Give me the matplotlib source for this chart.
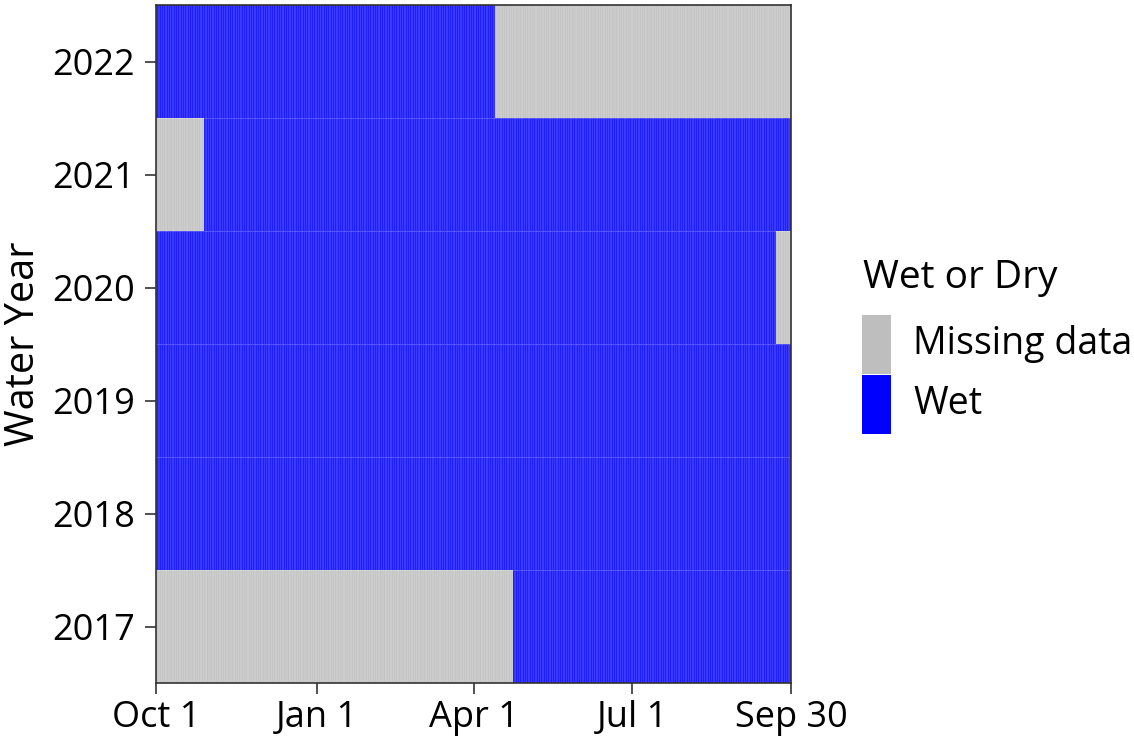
import numpy as np
import matplotlib
matplotlib.use("Agg")
import matplotlib.pyplot as plt
from matplotlib.colors import ListedColormap
from matplotlib.patches import Rectangle

plt.rcParams['font.family'] = ['Open Sans', 'DejaVu Sans']

# water years and the day-of-water-year ranges with missing data (0 = none)
years = [2017, 2018, 2019, 2020, 2021, 2022]
missing_start = [1, 0, 0, 357, 1, 196]
missing_end = [205, 0, 0, 365, 28, 365]

status_labels = ['Missing data', 'Wet']
status_colors = ['#bebebe', '#0000ff']

tick_days = [1, 93, 183, 274, 365]
tick_labels = ['Oct 1', 'Jan 1', 'Apr 1', 'Jul 1', 'Sep 30']

n_days = 365
days = np.arange(1, n_days + 1)

# 1 = wet, 0 = missing
grid = np.ones((len(years), n_days))
for i in range(len(years)):
    if missing_start[i] > 0:
        grid[i, (days >= missing_start[i]) & (days <= missing_end[i])] = 0

fig = plt.figure(figsize=(11.34, 7.43), dpi=100)
ax = fig.add_axes([156 / 1134, 1 - 683 / 743, (791.3 - 156) / 1134, 678 / 743])

x_edges = np.arange(0.5, n_days + 1.5)
y_edges = np.arange(len(years) + 1) - 0.5
ax.pcolormesh(x_edges, y_edges, grid, cmap=ListedColormap(status_colors),
              vmin=0, vmax=1, edgecolors=(1, 1, 1, 0.12), linewidth=0.25)

ax.set_xlim(1, 365)
ax.set_ylim(-0.5, len(years) - 0.5)
ax.set_xticks(tick_days)
ax.set_xticklabels(tick_labels)
ax.set_yticks(range(len(years)))
ax.set_yticklabels([str(y) for y in years])

for s in ax.spines.values():
    s.set_color('#333333')
    s.set_linewidth(1.2)
ax.tick_params(axis='both', length=8, width=1.2, color='#333333',
               labelsize=26, labelcolor='black')
ax.tick_params(axis='y', pad=7)
ax.tick_params(axis='x', pad=4)
ax.set_ylabel('Water Year', fontsize=28.5, labelpad=6)

# legend drawn by hand
fig.text(863 / 1134, 1 - 288 / 743, 'Wet or Dry', fontsize=28, va='baseline', ha='left')
key_top = [315, 375]
for k in range(2):
    fig.patches.append(Rectangle((862 / 1134, 1 - (key_top[k] + 59) / 743), 29 / 1134, 59 / 743,
                                 transform=fig.transFigure, facecolor=status_colors[k],
                                 edgecolor='none'))
    fig.text(913 / 1134, 1 - (key_top[k] + 29.5) / 743, status_labels[k], fontsize=27,
             va='center', ha='left')

fig.savefig('out.png', dpi=100)
